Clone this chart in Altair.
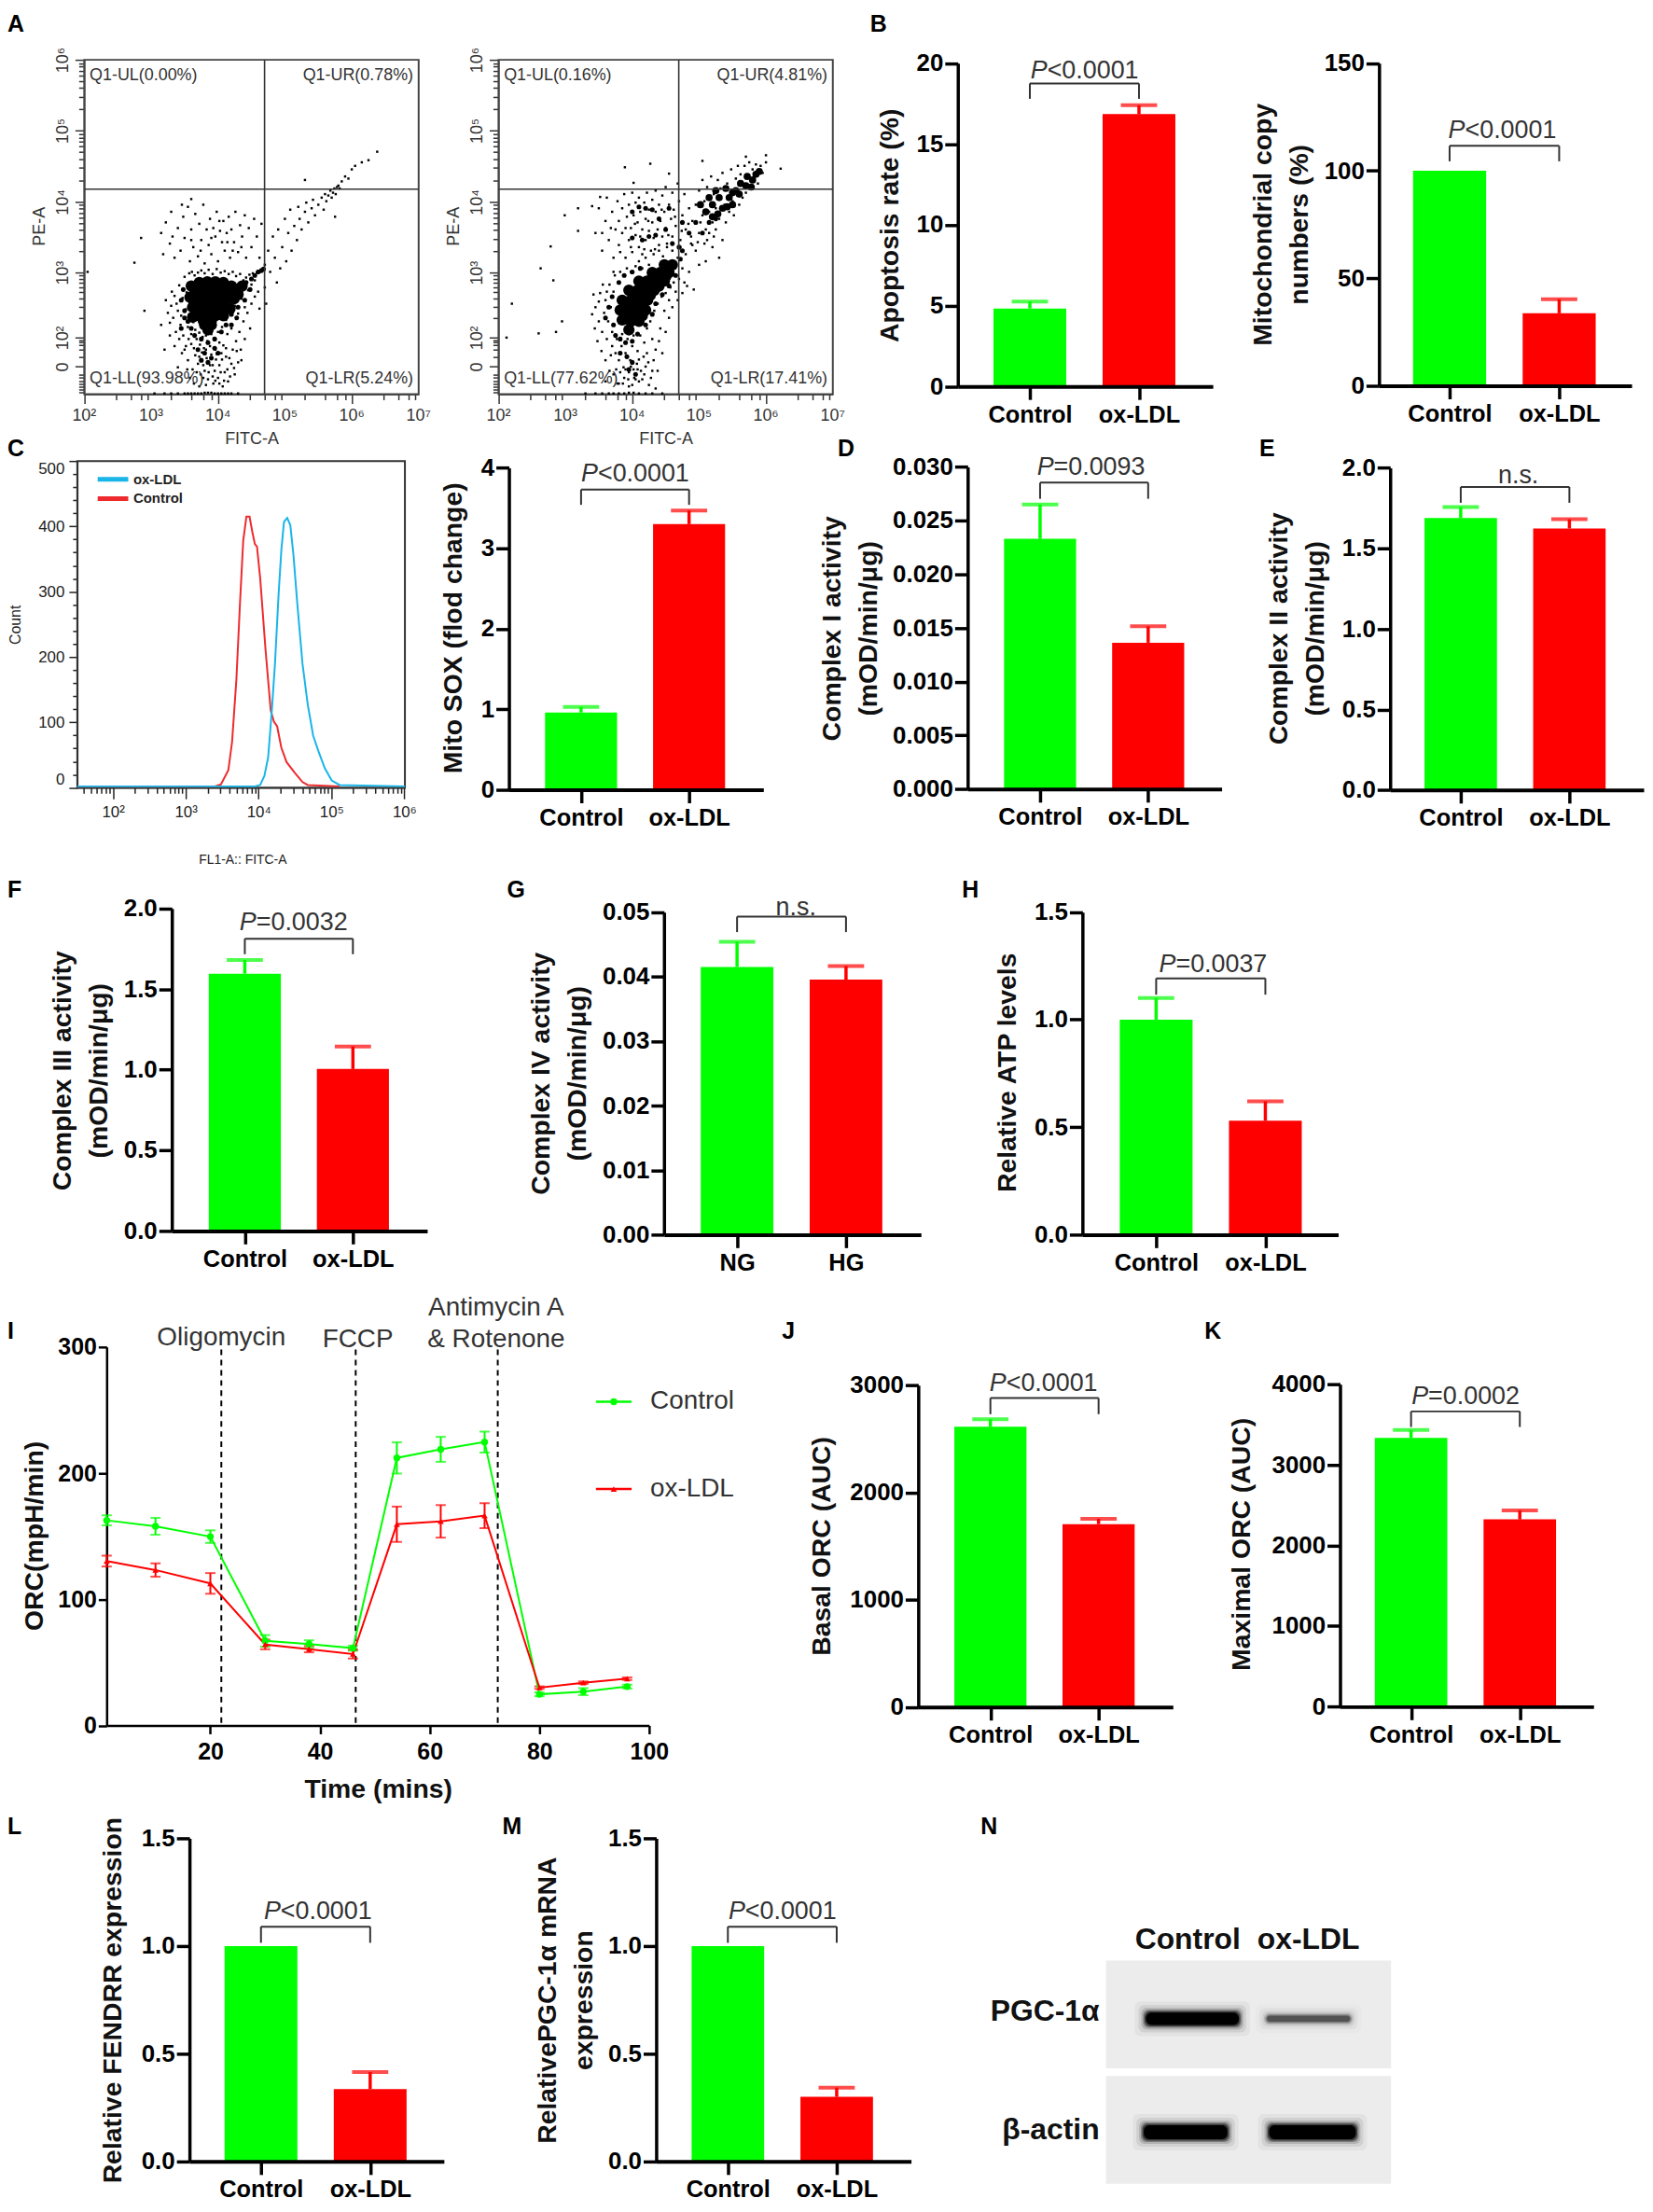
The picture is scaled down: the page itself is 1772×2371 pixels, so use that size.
import altair as alt
import pandas as pd

# page size minus the 8px margin, positions below are measured on the reference
W, H = 1764, 2363
FONT = "Liberation Sans"
GREEN, RED = "#00ff00", "#ff0000"
DARK = "#333333"

groups = ["Control", "ox-LDL"]
groups_g = ["NG", "HG"]

# bar panels: means, error bars, bracket height, bracket leg end, p label height
apoptosis_mean = [4.82, 16.85]
apoptosis_err = [0.43, 0.55]
copies_mean = [100, 33.7]
copies_err = [0, 6.6]
sox_mean = [0.96, 3.30]
sox_err = [0.07, 0.17]
c1_mean = [0.0233, 0.01363]
c1_err = [0.0032, 0.00153]
c2_mean = [1.689, 1.623]
c2_err = [0.067, 0.058]
c3_mean = [1.595, 1.004]
c3_err = [0.085, 0.14]
c4_mean = [0.0415, 0.03954]
c4_err = [0.0039, 0.0021]
atp_mean = [1.0, 0.53]
atp_err = [0.10, 0.09]
basal_mean = [2613, 1705]
basal_err = [69, 49]
maximal_mean = [3335, 2323]
maximal_err = [96, 112]
fendrr_mean = [1.0, 0.336]
fendrr_err = [0, 0.079]
pgc_mean = [1.0, 0.30]
pgc_err = [0, 0.043]

# seahorse trace
minutes = [1.1, 10, 20, 30, 38, 46, 54, 62, 70, 80, 88, 96]
orc_control = [162.6, 157.9, 149.7, 67.1, 64.5, 61.3, 212.1, 218.9, 224.7, 24.7, 26.8, 30.8]
orc_control_err = [4, 6.7, 5, 4.6, 3, 2, 12.4, 9.9, 8.3, 1.5, 2.8, 1.5]
orc_oxldl = [130.3, 123.2, 112.6, 64.2, 60.5, 56.6, 159.5, 161.8, 166.3, 30, 33.9, 37.1]
orc_oxldl_err = [4.3, 5.3, 8.2, 3.8, 2.5, 3.5, 14, 12.9, 9.9, 1, 1, 1]
injections = [22, 46.5, 72.4]

# histogram (log10 FITC, count)
hist_control_x = [1.51, 3.40, 3.484, 3.585, 3.636, 3.695, 3.745, 3.789, 3.833, 3.876, 3.913, 3.949, 3.978, 4.022,
                  4.095, 4.167, 4.211, 4.255, 4.313, 4.385, 4.495, 4.604, 4.676, 5.113]
hist_control_y = [2, 2, 5, 27, 70, 165, 283, 378, 415, 415, 392, 373, 369, 321,
                  212, 118, 101, 94, 61, 39, 23, 8.5, 4, 2]
hist_oxldl_x = [1.51, 3.95, 4.022, 4.08, 4.131, 4.182, 4.225, 4.276, 4.313, 4.349, 4.393, 4.436, 4.48, 4.531,
                4.604, 4.676, 4.749, 4.822, 4.909, 5.004, 5.113, 6.01]
hist_oxldl_y = [2, 2, 4, 18, 46, 118, 189, 298, 364, 407, 413, 402, 355, 283,
                189, 127, 80, 56, 30, 11, 4, 2]

a1_core = [(3.6, 2.8), (3.72, 2.85), (3.84, 2.86), (3.96, 2.86), (4.08, 2.85), (4.2, 2.8), (4.3, 2.76),
           (3.58, 2.64), (3.7, 2.66), (3.82, 2.68), (3.94, 2.68), (4.06, 2.7), (4.18, 2.7), (4.3, 2.68),
           (3.62, 2.5), (3.74, 2.52), (3.86, 2.52), (3.98, 2.52), (4.1, 2.55),
           (3.72, 2.38), (3.84, 2.38), (3.96, 2.38), (3.8, 2.25), (3.9, 2.25),
           (3.66, 2.73), (3.78, 2.77), (3.9, 2.78), (4.02, 2.78), (4.14, 2.76), (3.64, 2.57), (3.76, 2.6), (3.88, 2.6),
           (4.0, 2.62), (4.12, 2.62), (4.24, 2.62), (3.68, 2.44), (3.8, 2.45), (3.92, 2.45), (4.04, 2.47), (3.78, 2.31),
           (3.9, 2.31), (3.85, 2.18), (4.36, 2.8), (3.62, 2.36), (4.08, 2.38), (4.18, 2.48)]
a1_mid = [(3.45, 2.6), (3.5, 2.45), (3.48, 2.75), (3.55, 2.3), (3.6, 2.2), (3.65, 2.1), (3.75, 2.05), (3.85, 2.0),
          (3.95, 2.05), (4.05, 2.15), (4.12, 2.25), (4.2, 2.4), (4.3, 2.5), (4.4, 2.6), (4.48, 2.75), (4.42, 2.85),
          (3.7, 1.9), (3.8, 1.85), (3.9, 1.78), (3.95, 1.92), (4.0, 1.85), (3.85, 1.72), (3.75, 1.75), (4.5, 2.9),
          (4.55, 2.95), (4.6, 3.0), (4.65, 3.02), (4.68, 3.04), (3.5, 2.35), (3.45, 2.2), (4.2, 2.25), (4.28, 2.35)]
a1_dots = [(3.31, 2.72), (3.38, 2.55), (3.42, 2.81), (3.45, 2.38), (3.47, 2.63), (3.5, 2.93), (3.52, 2.47), (3.53, 2.71),
           (3.55, 2.22), (3.57, 2.98), (3.58, 2.36), (3.6, 2.12), (3.61, 3.0), (3.63, 2.29), (3.65, 2.95), (3.66, 2.18),
           (3.68, 2.05), (3.7, 2.99), (3.72, 2.14), (3.73, 1.97), (3.75, 3.02), (3.77, 2.08), (3.79, 1.92), (3.8, 2.98),
           (3.82, 2.1), (3.84, 2.02), (3.86, 3.03), (3.88, 1.95), (3.9, 2.12), (3.92, 2.97), (3.94, 2.06), (3.96, 1.9),
           (3.98, 3.04), (4.0, 2.15), (4.02, 2.0), (4.04, 2.99), (4.06, 2.22), (4.08, 1.96), (4.1, 3.01), (4.12, 2.32),
           (4.14, 2.12), (4.16, 2.97), (4.18, 2.42), (4.2, 2.2), (4.22, 3.0), (4.25, 2.52), (4.27, 2.94), (4.3, 2.41),
           (4.33, 2.97), (4.35, 2.62), (4.38, 2.88), (4.4, 2.5), (4.42, 2.92), (4.45, 2.74), (4.47, 2.96), (4.5, 2.82),
           (4.52, 2.98), (4.55, 2.88), (4.58, 2.99), (4.6, 3.01), (4.63, 3.0), (4.66, 3.02),
           (3.5, 1.9), (3.55, 1.75), (3.6, 1.98), (3.62, 1.62), (3.66, 1.82), (3.7, 1.7), (3.74, 1.55), (3.76, 1.86),
           (3.8, 1.6), (3.83, 1.78), (3.85, 1.48), (3.88, 1.68), (3.9, 1.83), (3.93, 1.42), (3.95, 1.6), (3.97, 1.76),
           (4.0, 1.5), (4.02, 1.68), (4.05, 1.85), (4.07, 1.38), (4.1, 1.58), (4.12, 1.8), (4.15, 1.45), (4.2, 1.7),
           (4.25, 1.55), (4.28, 1.88), (4.35, 1.75), (3.35, 1.95), (3.28, 2.1), (3.2, 1.9), (3.15, 2.25), (3.4, 1.65),
           (3.05, 1.28), (3.2, 1.28), (3.3, 1.28), (3.4, 1.28), (3.5, 1.28), (3.55, 1.28), (3.6, 1.28), (3.65, 1.28),
           (3.7, 1.28), (3.75, 1.28), (3.8, 1.29), (3.85, 1.29), (3.9, 1.29), (3.95, 1.28), (4.0, 1.28), (4.05, 1.28),
           (4.1, 1.28), (4.15, 1.28), (4.2, 1.28), (4.3, 1.28),
           (3.15, 3.55), (3.22, 3.7), (3.28, 3.4), (3.3, 3.85), (3.35, 3.2), (3.4, 3.62), (3.44, 3.3), (3.48, 3.78),
           (3.5, 3.48), (3.55, 3.92), (3.58, 3.15), (3.6, 3.6), (3.63, 3.35), (3.66, 3.82), (3.7, 3.22), (3.72, 3.68),
           (3.75, 3.45), (3.78, 3.95), (3.8, 3.12), (3.83, 3.6), (3.86, 3.38), (3.88, 3.75), (3.9, 3.25), (3.93, 3.62),
           (3.96, 3.5), (3.98, 3.85), (4.0, 3.15), (4.03, 3.58), (4.06, 3.42), (4.08, 3.72), (4.1, 3.3), (4.13, 3.55),
           (4.16, 3.78), (4.18, 3.2), (4.2, 3.6), (4.24, 3.42), (4.26, 3.85), (4.3, 3.28), (4.33, 3.66), (4.36, 3.5),
           (4.4, 3.8), (4.42, 3.2), (4.46, 3.62), (4.5, 3.35), (4.54, 3.75), (4.58, 3.5), (4.62, 3.2), (4.65, 3.68),
           (2.05, 3.0), (2.75, 3.13), (2.9, 2.45), (3.6, 4.03), (2.85, 3.48),
           (4.7, 3.1), (4.75, 3.3), (4.78, 3.0), (4.82, 3.5), (4.85, 3.2), (4.88, 2.85), (4.9, 3.6), (4.93, 3.05),
           (4.96, 3.35), (5.0, 3.75), (5.02, 3.15), (5.05, 3.55), (5.08, 3.88), (5.1, 3.3), (5.14, 3.65), (5.18, 3.45),
           (5.2, 3.92), (5.22, 3.75), (5.25, 3.6), (5.3, 3.85), (5.32, 3.98), (5.35, 3.7), (5.4, 3.9), (5.42, 4.02),
           (5.45, 3.8), (5.5, 3.95), (5.55, 4.05), (5.58, 3.88), (5.6, 4.1), (5.62, 4.0), (5.65, 4.08), (5.68, 4.15),
           (5.7, 4.05), (5.72, 4.12), (5.74, 4.18), (5.76, 4.1), (5.78, 4.2), (5.8, 4.22), (5.82, 4.18), (5.85, 4.28),
           (5.9, 4.35), (5.95, 4.32), (6.0, 4.45), (6.05, 4.5), (6.15, 4.55), (6.25, 4.58), (6.38, 4.7), (5.3, 4.3),
           (5.75, 3.78),
           (3.22, 2.6), (3.25, 2.42), (3.28, 2.28), (3.3, 2.52), (3.33, 2.35), (3.35, 2.66), (3.37, 2.15), (3.4, 2.45),
           (3.42, 2.05), (3.44, 2.25), (3.46, 1.85), (3.48, 2.1), (3.52, 1.95), (3.54, 1.62), (3.56, 2.05), (3.58, 1.5),
           (3.64, 1.92), (3.64, 1.42), (3.68, 1.58), (3.72, 1.8), (3.72, 1.38), (3.78, 1.5), (3.78, 1.68), (3.82, 1.9),
           (3.82, 1.4), (3.86, 1.58), (3.92, 1.52), (3.92, 1.68), (3.96, 1.46), (3.98, 1.84), (4.02, 1.42), (4.04, 1.58),
           (4.06, 1.76), (4.09, 1.46), (4.12, 1.92), (4.14, 1.62), (4.17, 1.78), (4.18, 1.52), (4.22, 1.9), (4.24, 1.64),
           (4.27, 2.02), (4.3, 1.72), (4.32, 2.15), (4.34, 1.9), (4.38, 2.3), (4.4, 2.05), (4.44, 2.42), (4.48, 2.2),
           (4.5, 2.55), (4.55, 2.65), (4.6, 2.72), (4.62, 2.48), (4.7, 2.78), (4.72, 2.55), (3.18, 3.25), (3.32, 3.5),
           (3.46, 3.95), (3.6, 3.45), (3.74, 3.3), (3.9, 3.48), (4.02, 3.72), (4.14, 3.42), (4.22, 3.3), (4.35, 3.35)]

a2_core = [(3.85, 2.32), (3.98, 2.3), (4.1, 2.3), (3.82, 2.46), (3.95, 2.46), (4.08, 2.46), (4.2, 2.46),
           (3.85, 2.6), (3.98, 2.6), (4.1, 2.6), (4.23, 2.6), (3.95, 2.74), (4.08, 2.74), (4.2, 2.74), (4.33, 2.74),
           (4.1, 2.87), (4.22, 2.87), (4.35, 2.87), (4.48, 2.87), (4.3, 2.99), (4.42, 2.99), (4.55, 2.99),
           (4.48, 3.1), (4.6, 3.1), (3.95, 2.18),
           (3.92, 2.38), (4.04, 2.38), (4.15, 2.38), (3.9, 2.53), (4.03, 2.53), (4.15, 2.53), (4.02, 2.67), (4.15, 2.67),
           (4.27, 2.67), (4.15, 2.8), (4.28, 2.8), (4.4, 2.8), (4.36, 2.93), (4.5, 2.93), (4.54, 3.05)]
a2_mid = [(3.6, 2.35), (3.65, 2.5), (3.7, 2.65), (3.72, 2.25), (3.75, 2.1), (3.82, 2.05), (3.9, 2.0), (4.0, 2.02),
          (4.08, 2.12), (4.2, 2.25), (4.3, 2.4), (4.35, 2.55), (4.45, 2.68), (4.55, 2.8), (4.65, 2.95), (3.8, 2.85),
          (3.88, 2.95), (4.0, 3.0), (4.12, 3.05), (3.82, 1.85), (3.92, 1.8), (4.0, 1.72), (3.95, 1.62), (4.05, 1.55),
          (4.72, 3.18), (4.75, 3.3), (4.0, 3.85), (4.1, 3.92), (4.2, 3.9), (4.3, 3.88), (4.4, 3.75), (4.5, 3.6),
          (4.6, 3.4), (4.7, 3.35), (4.15, 3.45), (4.25, 3.5), (4.35, 3.52), (4.0, 3.48), (4.55, 3.9), (4.75, 3.7),
          (4.85, 3.55), (4.95, 3.7), (5.05, 3.55), (5.15, 3.7), (5.25, 3.75)]
a2_cluster = [(5.2, 3.95), (5.3, 4.05), (5.45, 4.05), (5.55, 4.15), (5.7, 4.22), (5.8, 4.3), (5.85, 4.38),
              (5.35, 3.9), (5.1, 3.85), (5.6, 4.1), (5.25, 4.15), (5.5, 3.95), (5.72, 4.35), (5.15, 4.05), (5.4, 4.18),
              (5.02, 3.95), (5.28, 3.82), (5.42, 3.92), (5.5, 4.12), (5.62, 4.25), (5.78, 4.2), (5.9, 4.42), (5.2, 3.78)]
a2_dots = [(3.45, 2.5), (3.5, 2.3), (3.52, 2.7), (3.55, 2.15), (3.58, 2.42), (3.6, 2.6), (3.62, 2.05), (3.64, 2.3),
           (3.66, 2.82), (3.68, 2.5), (3.7, 1.95), (3.7, 2.15), (3.72, 2.72), (3.74, 2.95), (3.75, 1.85), (3.77, 2.05),
           (3.8, 2.85), (3.8, 1.75), (3.82, 3.0), (3.84, 1.95), (3.85, 2.12), (3.87, 1.65), (3.88, 2.95), (3.9, 1.85),
           (3.92, 3.05), (3.93, 2.05), (3.95, 1.58), (3.97, 1.75), (3.98, 3.0), (4.0, 1.95), (4.02, 2.1), (4.03, 1.5),
           (4.05, 3.08), (4.07, 1.7), (4.08, 1.88), (4.1, 3.15), (4.12, 2.1), (4.13, 1.6), (4.15, 3.05), (4.17, 1.8),
           (4.18, 2.0), (4.2, 3.2), (4.22, 2.2), (4.24, 1.72), (4.25, 3.1), (4.27, 2.3), (4.3, 2.05), (4.32, 3.25),
           (4.33, 2.45), (4.35, 1.9), (4.38, 2.55), (4.4, 3.3), (4.42, 2.2), (4.44, 2.65), (4.46, 3.22), (4.48, 2.45),
           (4.5, 2.7), (4.52, 3.35), (4.55, 2.6), (4.57, 2.78), (4.6, 3.3), (4.62, 2.85), (4.65, 2.72), (4.68, 3.2),
           (4.7, 2.9), (4.72, 3.35), (4.75, 3.05), (4.78, 2.85), (4.8, 3.25), (4.85, 3.0), (4.88, 3.4), (4.92, 2.75),
           (5.0, 3.1), (3.6, 1.45), (3.72, 1.55), (3.8, 1.42), (3.88, 1.5), (3.95, 1.38), (4.02, 1.62), (4.1, 1.45),
           (4.18, 1.55), (4.25, 1.4), (4.3, 1.6), (4.35, 1.35),
           (3.3, 1.28), (3.45, 1.28), (3.55, 1.28), (3.65, 1.28), (3.72, 1.28), (3.8, 1.28), (3.88, 1.28), (3.95, 1.29),
           (4.02, 1.29), (4.1, 1.28), (4.2, 1.28), (4.3, 1.28), (4.45, 1.28),
           (3.45, 3.55), (3.5, 3.9), (3.55, 3.3), (3.6, 3.72), (3.62, 4.05), (3.65, 3.45), (3.7, 3.85), (3.72, 3.2),
           (3.75, 3.6), (3.78, 4.0), (3.8, 3.72), (3.8, 3.38), (3.85, 3.9), (3.85, 3.55), (3.88, 4.1), (3.9, 3.2),
           (3.92, 3.78), (3.95, 3.45), (3.95, 3.95), (3.98, 3.62), (4.0, 4.12), (4.0, 3.28), (4.02, 3.8), (4.05, 3.52),
           (4.05, 3.98), (4.08, 3.7), (4.1, 3.35), (4.1, 4.05), (4.12, 3.85), (4.15, 3.6), (4.15, 3.25), (4.18, 3.98),
           (4.2, 3.75), (4.2, 3.45), (4.22, 4.12), (4.25, 3.58), (4.25, 3.88), (4.28, 3.3), (4.3, 3.7), (4.3, 4.02),
           (4.32, 3.48), (4.35, 3.85), (4.35, 4.15), (4.38, 3.6), (4.4, 3.95), (4.4, 3.38), (4.42, 3.72), (4.45, 4.08),
           (4.45, 3.5), (4.48, 3.85), (4.5, 4.2), (4.5, 3.62), (4.52, 3.4), (4.55, 3.95), (4.58, 3.75), (4.6, 4.12),
           (4.6, 3.5), (4.62, 3.88), (4.65, 3.65), (4.68, 4.25), (4.7, 4.0), (4.72, 3.45), (4.75, 3.8), (4.78, 4.1),
           (4.8, 3.6), (4.85, 3.9), (4.88, 3.5), (4.9, 3.72), (4.95, 3.3), (5.0, 3.55), (5.05, 3.8), (5.08, 3.4),
           (5.1, 3.15), (5.15, 3.55), (5.2, 3.35), (5.25, 3.6), (5.3, 3.2), (5.35, 3.45),
           (2.12, 2.07), (2.2, 2.55), (2.6, 2.13), (2.86, 2.15), (2.95, 2.3), (2.82, 2.88), (2.63, 3.05), (2.78, 3.36),
           (2.99, 3.8), (3.19, 3.9), (3.89, 4.48), (4.27, 4.53), (3.19, 3.58), (3.4, 3.93), (3.52, 4.06), (4.02, 4.26),
           (4.55, 4.39), (5.05, 4.57), (5.7, 4.63), (6.0, 4.65), (6.22, 4.46),
           (4.95, 3.95), (5.0, 4.15), (5.02, 3.7), (5.05, 4.3), (5.08, 4.0), (5.1, 3.6), (5.12, 4.2), (5.15, 3.85),
           (5.18, 4.35), (5.2, 3.7), (5.22, 4.1), (5.25, 3.9), (5.28, 4.3), (5.3, 3.75), (5.32, 4.18), (5.35, 4.4),
           (5.38, 3.95), (5.4, 3.7), (5.42, 4.25), (5.45, 3.85), (5.48, 4.45), (5.5, 4.0), (5.52, 3.8), (5.55, 4.32),
           (5.58, 4.5), (5.6, 3.95), (5.62, 4.38), (5.65, 4.05), (5.68, 4.5), (5.7, 4.12), (5.72, 4.35), (5.75, 4.55),
           (5.78, 4.2), (5.8, 4.45), (5.85, 4.52), (5.88, 4.25), (5.92, 4.5), (5.95, 4.4), (6.0, 4.55),
           (3.4, 2.4), (3.42, 2.68), (3.44, 2.2), (3.48, 2.02), (3.5, 2.58), (3.54, 1.88), (3.56, 2.82), (3.6, 1.75),
           (3.62, 2.72), (3.66, 1.6), (3.68, 1.82), (3.72, 3.0), (3.76, 1.62), (3.78, 1.42), (3.82, 1.58), (3.86, 1.42),
           (3.9, 1.62), (3.94, 1.48), (3.98, 1.66), (4.0, 1.4), (4.05, 1.48), (4.08, 1.62), (4.1, 1.76), (4.15, 1.48),
           (4.2, 1.66), (4.22, 1.85), (4.28, 1.5), (4.32, 1.75), (4.38, 1.6), (4.4, 2.02), (4.45, 1.85), (4.5, 2.15),
           (4.55, 2.35), (4.6, 2.5), (4.68, 2.6), (4.75, 2.7), (4.82, 2.8), (3.55, 3.55), (3.68, 3.62), (3.82, 3.28),
           (3.9, 3.62), (3.98, 3.35), (4.04, 3.68), (4.12, 3.5), (4.18, 3.32), (4.24, 3.72), (4.34, 3.32), (4.44, 3.88),
           (4.54, 3.52), (4.64, 3.78), (4.74, 3.58), (4.84, 3.68), (4.9, 3.38), (4.98, 3.42), (5.12, 3.45), (5.22, 3.5)]

flow_tick_labels = ["10²", "10³", "10⁴", "10⁵", "10⁶", "10⁷"]
a1_labels = ["Q1-UL(0.00%)", "Q1-UR(0.78%)", "Q1-LL(93.98%)", "Q1-LR(5.24%)"]
a2_labels = ["Q1-UL(0.16%)", "Q1-UR(4.81%)", "Q1-LL(77.62%)", "Q1-LR(17.41%)"]

# western blot bands: left, right, top, bottom, strength
blot_x1 = [43, 173, 40.7, 175.7]
blot_x2 = [143, 263, 130.7, 269]
blot_y1 = [56, 59.3, 177.3, 177.3]
blot_y2 = [69.3, 66, 192.3, 192.3]
blot_strength = [1, 0.42, 1, 1]
halo_spread = [12, 8, 5, 3, 1.5, 0]
halo_alpha = [0.04, 0.08, 0.15, 0.3, 0.5, 1]


def sc(domain, lo, hi):
    # positions come in as reference pixels, the page margin is 8
    return alt.Scale(domain=domain, range=[lo - 8, hi - 8], nice=False, zero=False)


def xfield(scale, axis=alt.Undefined):
    return alt.X("x:Q", scale=scale, axis=axis)


def yfield(scale, axis=alt.Undefined):
    return alt.Y("y:Q", scale=scale, axis=axis)


series_color = alt.Color("series:N", scale=alt.Scale(domain=groups + groups_g, range=[GREEN, RED, GREEN, RED]),
                         legend=None)


def expr_labels(mapping):
    expr = "''"
    for k, v in mapping.items():
        expr = f"datum.value=={k}?'{v}':{expr}"
    return expr


def bar_panel(mean, err, names, title, fmt, ymax, step, bracket, leg, text, text_y, text_x, ax, top, base, end, c1, c2,
              title_x, title_y):
    d = (c2 - c1)
    xs = sc([1 - (c1 - ax) / d, 2 + (end - c2) / d], ax, end)
    ys = sc([0, ymax], base, top)
    ticks = []
    v = 0
    while v <= ymax * 1.0001:
        ticks.append(round(v, 4))
        v += step
    # two line titles grow away from titleX, so pull them back half a line
    if isinstance(title, list):
        title_x -= 19.5
    x_axis = alt.Axis(orient="bottom", offset=base - 8 - H, values=[1, 2], labelExpr=f"datum.value==1?'{names[0]}':'{names[1]}'",
                      title=None, tickSize=14, tickWidth=3.5, domainWidth=4, domainColor="black", tickColor="black",
                      labelFont=FONT, labelFontWeight="bold", labelFontSize=25.5, labelColor="black", labelPadding=4,
                      labelAngle=0, labelFlush=False, zindex=1)
    y_axis = alt.Axis(orient="left", offset=-(ax - 8), values=ticks, format=fmt, title=title,
                      titleFont=FONT, titleFontWeight="bold", titleFontSize=28.5, titleColor="#111111",
                      titleX=title_x - ax, titleY=title_y - 8, titleAngle=270, titleAlign="center", titleBaseline="middle",
                      titleLineHeight=39,
                      tickSize=14, tickWidth=3.5, domainWidth=3.5, domainColor="black", tickColor="black",
                      labelFont=FONT, labelFontWeight="bold", labelFontSize=26, labelColor="black", labelPadding=2,
                      zindex=1)
    bars = pd.DataFrame({"x": [2 / 3, 5 / 3], "x2": [4 / 3, 7 / 3], "y": mean, "y2": [0, 0], "series": names})
    errs = pd.DataFrame({"x": [1, 2], "y": mean, "y2": [m + e for m, e in zip(mean, err)], "e": err, "series": names})
    errs = errs[errs.e > 0]
    caps = errs.assign(y=errs.y2)
    br = pd.DataFrame({"x": [1, 1, 2], "x2": [2, 1, 2], "y": [bracket, bracket, bracket], "y2": [bracket, leg, leg]})
    layers = [
        alt.Chart(bars).mark_rect().encode(xfield(xs, x_axis), alt.X2("x2:Q"), yfield(ys, y_axis), alt.Y2("y2:Q"),
                                           color=series_color),
        alt.Chart(errs).mark_rule(strokeWidth=3.5).encode(xfield(xs), yfield(ys), alt.Y2("y2:Q"), color=series_color),
        alt.Chart(caps).mark_tick(orient="horizontal", size=39, thickness=4).encode(xfield(xs), yfield(ys),
                                                                                    color=series_color),
        alt.Chart(br).mark_rule(strokeWidth=2, color=DARK).encode(xfield(xs), alt.X2("x2:Q"), yfield(ys), alt.Y2("y2:Q")),
    ]
    lab = pd.DataFrame({"x": [text_x], "y": [text_y]})
    if text == "n.s.":
        layers.append(alt.Chart(lab).mark_text(text=text, font=FONT, fontSize=27, color=DARK, baseline="middle",
                                               align="center").encode(xfield(xs), yfield(ys)))
    else:
        layers.append(alt.Chart(lab).mark_text(text="P", font=FONT, fontSize=27, fontStyle="italic", color=DARK,
                                               baseline="middle", align="right", dx=-40).encode(xfield(xs), yfield(ys)))
        layers.append(alt.Chart(lab).mark_text(text=text, font=FONT, fontSize=27, color=DARK, baseline="middle",
                                               align="left", dx=-40).encode(xfield(xs), yfield(ys)))
    return alt.layer(*layers)


DECADE_STEPS = [0.301, 0.477, 0.602, 0.699, 0.778, 0.845, 0.903, 0.954]
FLOW_MAJOR = [6, 5, 3.99, 2.99, 2.07, 1.66]
FLOW_LABELS = {6: "10⁶", 5: "10⁵", 3.99: "10⁴", 2.99: "10³", 2.07: "10²", 1.66: "0"}


def flow_panel(core, mid, dots, labels, x0, x1, cluster=None):
    y0, y1 = 59, 419
    xs = sc([2, 7], x0, x1)
    ys = sc([1.27, 6], y1, y0)
    x_vals = list(range(2, 8)) + [round(d + s, 3) for d in range(2, 7) for s in DECADE_STEPS]
    y_vals = FLOW_MAJOR + [round(a + s * (b - a), 3) for a, b in [(2.07, 2.99), (2.99, 3.99), (3.99, 5), (5, 6)]
                           for s in DECADE_STEPS] + [1.3, 1.34, 1.38, 1.42, 1.46, 1.5, 1.55, 1.8, 1.9, 1.96, 2.0, 2.03]
    common = dict(tickColor=DARK, domainColor=DARK, tickWidth=1.5, domainWidth=1.5, labelFont=FONT, labelFontSize=18,
                  labelColor=DARK, titleFont=FONT, titleFontSize=18, titleColor=DARK, titleFontWeight="normal",
                  titleAlign="center", titleBaseline="middle", labelOverlap=False)
    # axis would drop every other decade label here, they are drawn as text below
    x_axis = alt.Axis(orient="bottom", offset=y1 - 8 - H, values=x_vals, title="FITC-A", labels=False,
                      tickSize={"condition": {"test": "datum.value==floor(datum.value)", "value": 10}, "value": 6},
                      titleX=x0 + 180 - 8, titleY=48, **common)
    y_axis = alt.Axis(orient="left", offset=-(x0 - 8), values=y_vals, title="PE-A",
                      labelExpr=expr_labels(FLOW_LABELS), labelAngle=270, labelAlign="center", labelBaseline="bottom",
                      tickSize={"condition": {"test": f"indexof({FLOW_MAJOR},datum.value)>=0", "value": 10}, "value": 6},
                      labelPadding=4, titleX=-48, titleY=230, titleAngle=270, **common)
    frame = pd.DataFrame({"x": [2], "x2": [7], "y": [1.27], "y2": [6]})
    dots_df = pd.DataFrame(dots, columns=["x", "y"])
    core_df = pd.DataFrame(core, columns=["x", "y"])
    mid_df = pd.DataFrame(mid, columns=["x", "y"])
    decade_df = pd.DataFrame({"x": list(range(2, 8)), "y": [1.27] * 6, "t": flow_tick_labels})
    layers = [
        alt.Chart(frame).mark_rect(fillOpacity=0, stroke="#444444", strokeWidth=2).encode(
            xfield(xs, x_axis), alt.X2("x2:Q"), yfield(ys, y_axis), alt.Y2("y2:Q")),
        alt.Chart(core_df).mark_circle(size=150, color="black", opacity=1).encode(xfield(xs), yfield(ys)),
        alt.Chart(mid_df).mark_circle(size=26, color="black", opacity=1).encode(xfield(xs), yfield(ys)),
        alt.Chart(dots_df).mark_square(size=6, color="black", opacity=1).encode(xfield(xs), yfield(ys)),
        alt.Chart(decade_df).mark_text(font=FONT, fontSize=18, color=DARK, align="center", baseline="middle", dy=24).encode(
            xfield(xs), yfield(ys), text="t:N"),
    ]
    if cluster:
        layers.append(alt.Chart(pd.DataFrame(cluster, columns=["x", "y"])).mark_circle(size=60, color="black", opacity=1)
                      .encode(xfield(xs), yfield(ys)))
    gates = pd.DataFrame({"x": [4.696, 2], "x2": [4.696, 7], "y": [1.27, 4.17], "y2": [6, 4.17]})
    layers.append(alt.Chart(gates).mark_rule(color=DARK, strokeWidth=1.6).encode(xfield(xs), alt.X2("x2:Q"), yfield(ys),
                                                                                 alt.Y2("y2:Q")))
    left = pd.DataFrame({"x": [2.08, 2.08], "y": [5.78, 1.49], "t": [labels[0], labels[2]]})
    right = pd.DataFrame({"x": [6.92, 6.92], "y": [5.78, 1.49], "t": [labels[1], labels[3]]})
    for df, align in [(left, "left"), (right, "right")]:
        layers.append(alt.Chart(df).mark_text(font=FONT, fontSize=18, color=DARK, align=align, baseline="middle").encode(
            xfield(xs), yfield(ys), text="t:N"))
    return alt.layer(*layers)


def hist_panel():
    x0, x1, y0, y1 = 83.2, 436, 491, 842.7
    xs = sc([1.51, 6.01], x0, x1)
    ys = sc([0, 500], y1, y0)
    x_vals = list(range(2, 7)) + [round(d + s, 3) for d in range(1, 6) for s in DECADE_STEPS if d + s > 1.52]
    common = dict(tickColor="#222222", domainColor="#222222", tickWidth=1.5, domainWidth=1.5, labelFont=FONT, labelFontSize=17,
                  labelColor="#222222", titleFont=FONT, titleColor="#222222", titleFontWeight="normal",
                  titleAlign="center", titleBaseline="middle", labelOverlap=False)
    x_axis = alt.Axis(orient="bottom", offset=y1 - 8 - H, values=x_vals, title="FL1-A:: FITC-A", titleFontSize=14,
                      labelExpr=expr_labels({2: "10²", 3: "10³", 4: "10⁴", 5: "10⁵", 6: "10⁶"}),
                      tickSize={"condition": {"test": "datum.value==floor(datum.value)", "value": 12}, "value": 6},
                      labelPadding=6, labelAngle=0, labelFlush=False, titleX=261 - 8, titleY=78, **common)
    y_axis = alt.Axis(orient="left", offset=-(x0 - 8), values=list(range(0, 501, 20)), title="Count", titleFontSize=16,
                      labelExpr=expr_labels({k: str(k) for k in range(0, 501, 100)}), labelFlush=True,
                      tickSize={"condition": {"test": "datum.value%100==0", "value": 9}, "value": 5},
                      labelPadding=5, titleX=17 - x0, titleY=667 - 8, titleAngle=270, **common)
    frame = pd.DataFrame({"x": [1.51], "x2": [6.01], "y": [0], "y2": [500]})
    red = pd.DataFrame({"x": hist_control_x, "y": hist_control_y})
    blue = pd.DataFrame({"x": hist_oxldl_x, "y": hist_oxldl_y})
    key = pd.DataFrame({"x": [1.79, 1.79], "x2": [2.21, 2.21], "y": [472, 442.4], "c": ["ox-LDL", "Control"]})
    key_text = key.assign(x=2.28)
    return alt.layer(
        alt.Chart(frame).mark_rect(fillOpacity=0, stroke="#333333", strokeWidth=2).encode(
            xfield(xs, x_axis), alt.X2("x2:Q"), yfield(ys, y_axis), alt.Y2("y2:Q")),
        alt.Chart(red).mark_line(color="#ee2a2e", strokeWidth=2).encode(xfield(xs), yfield(ys)),
        alt.Chart(blue).mark_line(color="#19b5e8", strokeWidth=2).encode(xfield(xs), yfield(ys)),
        alt.Chart(key.iloc[[0]]).mark_rule(color="#19b5e8", strokeWidth=5).encode(xfield(xs), alt.X2("x2:Q"), yfield(ys)),
        alt.Chart(key.iloc[[1]]).mark_rule(color="#ee2a2e", strokeWidth=5).encode(xfield(xs), alt.X2("x2:Q"), yfield(ys)),
        alt.Chart(key_text).mark_text(font=FONT, fontSize=15, fontWeight="bold", color="#222222", align="left",
                                      baseline="middle").encode(xfield(xs), yfield(ys), text="c:N"),
    )


def orc_panel():
    ax, end, top, base = 114.8, 699, 1445, 1852.5
    xs = sc([1.09, 100], ax, end)
    ys = sc([0, 300], base, top)
    x_axis = alt.Axis(orient="bottom", offset=base - 8 - H, values=[20, 40, 60, 80, 100], title="Time (mins)",
                      titleFont=FONT, titleFontWeight="bold", titleFontSize=28.5, titleColor="#111111", titleX=407 - 8,
                      titleY=68.5, titleAlign="center", titleBaseline="middle", tickSize=9, tickWidth=2.5, domainWidth=2.5,
                      domainColor="black", tickColor="black", labelFont=FONT, labelFontWeight="bold", labelFontSize=25,
                      labelColor="black", labelPadding=7, labelAngle=0, labelFlush=False)
    y_axis = alt.Axis(orient="left", offset=-(ax - 8), values=[0, 100, 200, 300], title="ORC(mpH/min)", titleFont=FONT,
                      titleFontWeight="bold", titleFontSize=28.5, titleColor="#111111", titleX=36.7 - ax, titleY=1648 - 8,
                      titleAngle=270, titleAlign="center", titleBaseline="middle", tickSize=9, tickWidth=2.5, domainWidth=2.5,
                      domainColor="black", tickColor="black", labelFont=FONT, labelFontWeight="bold", labelFontSize=25,
                      labelColor="black", labelPadding=2)
    frames = []
    for name, vals, err in [("Control", orc_control, orc_control_err), ("ox-LDL", orc_oxldl, orc_oxldl_err)]:
        frames.append(pd.DataFrame({"x": minutes, "y": vals, "lo": [v - e for v, e in zip(vals, err)],
                                    "hi": [v + e for v, e in zip(vals, err)], "series": name}))
    df = pd.concat(frames)
    dash = pd.DataFrame({"x": injections, "y": [298, 298, 298], "y2": [0, 0, 0]})
    key_line = pd.DataFrame({"x": [90.3, 90.3], "x2": [96.8, 96.8], "y": [256.6, 187.4], "series": groups})
    key_mark = pd.DataFrame({"x": [93.55, 93.55], "y": [256.6, 187.4], "series": groups})
    key_text = pd.DataFrame({"x": [100.2, 100.2], "y": [256.6, 187.4], "series": groups})
    notes = pd.DataFrame({"x": [22, 46.9, 72.1, 72.1], "y": [307, 306, 331, 306],
                          "t": ["Oligomycin", "FCCP", "Antimycin A", "& Rotenone"]})
    layers = [
        alt.Chart(dash).mark_rule(color="black", strokeWidth=2, strokeDash=[6, 5]).encode(
            xfield(xs, x_axis), yfield(ys, y_axis), alt.Y2("y2:Q")),
        alt.Chart(df).mark_rule(strokeWidth=2).encode(xfield(xs), alt.Y("lo:Q", scale=ys), alt.Y2("hi:Q"),
                                                      color=series_color),
        alt.Chart(df).mark_tick(orient="horizontal", size=11, thickness=2).encode(
            xfield(xs), alt.Y("lo:Q", scale=ys), color=series_color),
        alt.Chart(df).mark_tick(orient="horizontal", size=11, thickness=2).encode(
            xfield(xs), alt.Y("hi:Q", scale=ys), color=series_color),
        alt.Chart(df).mark_line(strokeWidth=2).encode(xfield(xs), yfield(ys), color=series_color),
        alt.Chart(df[df.series == "Control"]).mark_circle(size=55, opacity=1).encode(xfield(xs), yfield(ys),
                                                                                      color=series_color),
        alt.Chart(df[df.series == "ox-LDL"]).mark_point(shape="triangle-up", size=45, filled=True, opacity=1).encode(
            xfield(xs), yfield(ys), color=series_color),
        alt.Chart(key_line).mark_rule(strokeWidth=2.5).encode(xfield(xs), alt.X2("x2:Q"), yfield(ys), color=series_color),
        alt.Chart(key_mark.iloc[[0]]).mark_circle(size=55, opacity=1).encode(xfield(xs), yfield(ys), color=series_color),
        alt.Chart(key_mark.iloc[[1]]).mark_point(shape="triangle-up", size=45, filled=True, opacity=1).encode(
            xfield(xs), yfield(ys), color=series_color),
        alt.Chart(key_text).mark_text(font=FONT, fontSize=28, color=DARK, align="left", baseline="middle").encode(
            xfield(xs), yfield(ys), text="series:N"),
        alt.Chart(notes).mark_text(font=FONT, fontSize=28, color=DARK, align="center", baseline="middle").encode(
            xfield(xs), yfield(ys), text="t:N"),
    ]
    return alt.layer(*layers)


def blot_panel():
    xs = sc([0, 308], 1191, 1499)
    ys = sc([0, 240.3], 2105.7, 2346)
    bg = pd.DataFrame({"x": [0, 0], "x2": [307, 307], "y": [0, 124.3], "y2": [116, 240.3]})
    rows = []
    for x1, x2, y1, y2, st in zip(blot_x1, blot_x2, blot_y1, blot_y2, blot_strength):
        for sp, al in zip(halo_spread, halo_alpha):
            rows.append({"x": x1 - sp, "x2": x2 + sp, "y": y1 - sp, "y2": y2 + sp, "o": al * st})
    bands = pd.DataFrame(rows)
    top = pd.DataFrame({"x": [88, 218], "y": [-23, -23], "t": groups})
    side = pd.DataFrame({"x": [-7, -7], "y": [54.3, 182.3], "t": ["PGC-1α", "β-actin"]})
    return alt.layer(
        alt.Chart(bg).mark_rect(color="#ececec").encode(xfield(xs, None), alt.X2("x2:Q"), yfield(ys, None), alt.Y2("y2:Q")),
        alt.Chart(bands).mark_rect(color="black", cornerRadius=6).encode(xfield(xs, None), alt.X2("x2:Q"), yfield(ys, None), alt.Y2("y2:Q"),
                                                                          opacity=alt.Opacity("o:Q", scale=None, legend=None)),
        alt.Chart(top).mark_text(font=FONT, fontSize=32, fontWeight="bold", color="#111111", align="center",
                                 baseline="middle").encode(xfield(xs, None), yfield(ys, None), text="t:N"),
        alt.Chart(side).mark_text(font=FONT, fontSize=32, fontWeight="bold", color="#111111", align="right",
                                  baseline="middle").encode(xfield(xs, None), yfield(ys, None), text="t:N"),
    )


panels = [
    flow_panel(a1_core, a1_mid, a1_dots, a1_labels, 90.7, 450.8),
    flow_panel(a2_core, a2_mid, a2_dots, a2_labels, 536.8, 896.8, a2_cluster),
    bar_panel(apoptosis_mean, apoptosis_err, groups, "Apoptosis rate (%)", "d", 20, 5, 18.75, 17.8, "<0.0001", 19.5, 1.5,
              1031.4, 62.7, 410.7, 1306, 1109, 1226.5, 958, 237),
    bar_panel(copies_mean, copies_err, groups, ["Mitochondrial copy", "numbers (%)"], "d", 150, 50, 111.6, 104.4, "<0.0001",
              118.8, 1.48, 1485, 62.7, 410, 1757, 1561, 1679, 1379, 236),
    hist_panel(),
    bar_panel(sox_mean, sox_err, groups, "Mito SOX (flod change)", "d", 4, 1, 3.73, 3.54, "<0.0001", 3.92, 1.5,
              548, 498.3, 845, 822, 625.7, 742, 488, 670.5),
    bar_panel(c1_mean, c1_err, groups, ["Complex I activity", "(mOD/min/μg)"], ".3f", 0.03, 0.005, 0.02853, 0.02703,
              "=0.0093", 0.02994, 1.47, 1042, 497.3, 844.3, 1315.5, 1120, 1236.4, 915, 671),
    bar_panel(c2_mean, c2_err, groups, ["Complex II activity", "(mOD/min/μg)"], ".1f", 2, 0.5, 1.881, 1.783, "n.s.", 1.95, 1.53,
              1497, 498.3, 845.3, 1770, 1573, 1690, 1396.6, 671),
    bar_panel(c3_mean, c3_err, groups, ["Complex III activity", "(mOD/min/μg)"], ".1f", 2, 0.5, 1.812, 1.716, "=0.0032", 1.911,
              1.45, 185, 972.7, 1320, 460, 263.6, 380, 86, 1147),
    bar_panel(c4_mean, c4_err, groups_g, ["Complex IV activity", "(mOD/min/μg)"], ".2f", 0.05, 0.01, 0.0493, 0.0469, "n.s.",
              0.0507, 1.54, 715, 976.7, 1324, 991.7, 793.7, 911, 602, 1150),
    bar_panel(atp_mean, atp_err, groups, "Relative ATP levels", ".1f", 1.5, 0.5, 1.192, 1.116, "=0.0037", 1.256, 1.52,
              1165.6, 976.7, 1324, 1441, 1245, 1362.6, 1084, 1149),
    orc_panel(),
    bar_panel(basal_mean, basal_err, groups, "Basal ORC (AUC)", "d", 3000, 1000, 2879, 2729, "<0.0001", 3016, 1.49,
              988.8, 1486, 1832.7, 1263, 1066.5, 1183, 885, 1659),
    bar_panel(maximal_mean, maximal_err, groups, "Maximal ORC (AUC)", "d", 4000, 1000, 3662, 3469, "=0.0002", 3840, 1.5,
              1443, 1485, 1832.3, 1716, 1519.5, 1636.6, 1337, 1657),
    bar_panel(fendrr_mean, fendrr_err, groups, "Relative FENDRR expression", ".1f", 1.5, 0.5, 1.09, 1.015, "<0.0001", 1.16, 1.52,
              204, 1974, 2322, 478, 281, 398.6, 121, 2148),
    bar_panel(pgc_mean, pgc_err, groups, ["RelativePGC-1α mRNA", "expression"], ".1f", 1.5, 0.5, 1.09, 1.015, "<0.0001", 1.16, 1.5,
              706.6, 1974, 2322, 981, 783.8, 901, 609, 2148),
    blot_panel(),
]

# panel letters, left edge and vertical centre on the page
letters = {"A": (8, 21), "B": (937, 21), "C": (8, 478), "D": (902, 478), "E": (1356, 478), "F": (8, 953), "G": (546, 953),
           "H": (1036, 953), "I": (8, 1428), "J": (842, 1428), "K": (1297, 1428), "L": (8, 1962), "M": (541, 1962), "N": (1056, 1962)}
for letter, (lx, ly) in letters.items():
    panels.append(alt.Chart(alt.Data(values=[{"t": letter}])).mark_text(
        font=FONT, fontSize=25, fontWeight="bold", color="black", align="left", baseline="middle").encode(
        x=alt.value(lx - 8), y=alt.value(ly - 8), text="t:N"))

chart = alt.layer(*panels).resolve_scale(x="independent", y="independent").resolve_axis(
    x="independent", y="independent"
).properties(
    width=W, height=H, padding=0, autosize=alt.AutoSizeParams(type="none"), background="white"
).configure_view(strokeWidth=0).configure_axis(grid=False)

chart.save("out.html", embed_options={"renderer": "svg", "actions": False})
